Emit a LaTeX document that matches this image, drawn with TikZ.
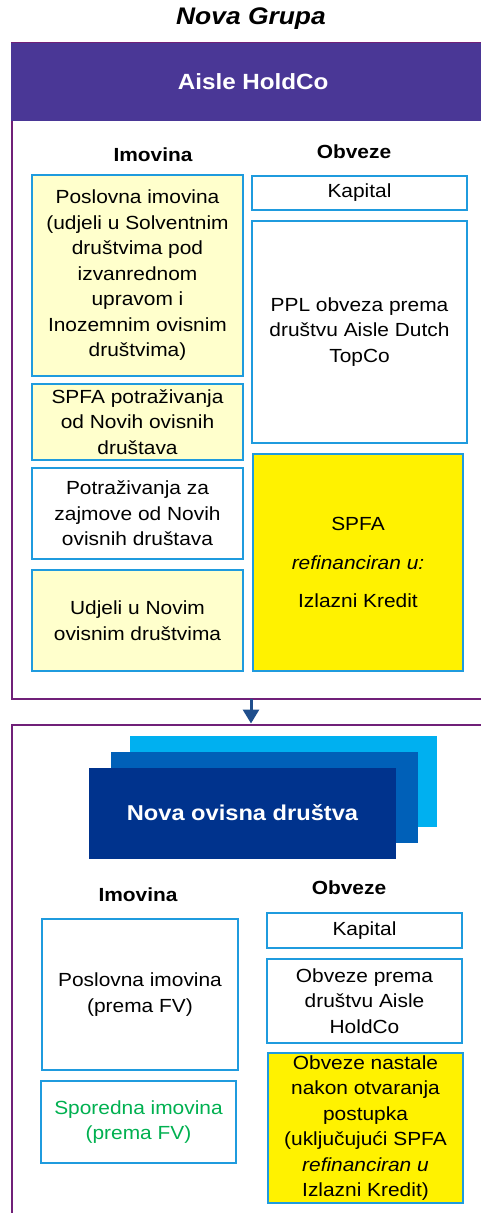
\documentclass[tikz,border=0pt]{standalone}
\usepackage{fontspec}
\setmainfont{Liberation Sans}[FakeStretch=1.1]
\usetikzlibrary{arrows.meta}

\definecolor{framepurple}{RGB}{112,32,120}
\definecolor{headerpurple}{RGB}{74,55,150}
\definecolor{boxblue}{RGB}{31,155,222}
\definecolor{lightyellow}{RGB}{255,255,204}
\definecolor{stackback}{RGB}{0,176,240}
\definecolor{stackmid}{RGB}{0,96,184}
\definecolor{stackfront}{RGB}{0,51,141}
\definecolor{arrowblue}{RGB}{31,78,140}
\definecolor{sidegreen}{RGB}{0,176,80}

\begin{document}
\begin{tikzpicture}[x=1pt, y=-1pt,
    frame/.style={draw=framepurple, line width=1.6pt},
    box/.style={draw=boxblue, line width=1.8pt, rectangle, align=center, inner sep=0pt,
        font=\fontsize{19}{25.5}\selectfont},
    assetbox/.style={box, fill=lightyellow},
    spfabox/.style={box, fill=yellow},
    heading/.style={font=\fontsize{19}{22}\selectfont\bfseries},
    stackbox/.style={rectangle, minimum width=307pt, minimum height=91pt, inner sep=0pt}]
    \useasboundingbox (0,0) rectangle (481,1213);
    \clip (0,0) rectangle (481,1213);

    % Aisle HoldCo
    \node (title) at (251,19) [font=\fontsize{24}{28}\selectfont\bfseries\itshape] {Nova Grupa};
    \draw[frame] (12,43) rectangle (495,699);
    \node (holdco) at (11,82) [anchor=west, fill=headerpurple, minimum width=484pt, minimum height=78pt,
        text=white, font=\fontsize{22}{26}\selectfont\bfseries] {Aisle HoldCo};
    \node (imovina) at (153,155) [heading] {Imovina};
    \node (obveze) at (354,152) [heading] {Obveze};
    \node (poslovna) at (137.5,275.5) [assetbox, minimum width=211pt, minimum height=201pt]
        {Poslovna imovina\\(udjeli u Solventnim\\društvima pod\\izvanrednom\\upravom i\\Inozemnim ovisnim\\društvima)};
    \node (spfapot) at (137.5,422) [assetbox, minimum width=211pt, minimum height=76pt]
        {SPFA potraživanja\\od Novih ovisnih\\društava};
    \node (zajmovi) at (137.5,513.5) [box, minimum width=211pt, minimum height=91pt]
        {Potraživanja za\\zajmove od Novih\\ovisnih društava};
    \node (udjeli) at (137.5,620.5) [assetbox, minimum width=211pt, minimum height=101pt]
        {Udjeli u Novim\\ovisnim društvima};
    \node (kapital) at (359.5,193) [box, minimum width=215pt, minimum height=34pt] {Kapital};
    \node (ppl) at (359.5,332) [box, minimum width=215pt, minimum height=222pt]
        {PPL obveza prema\\društvu Aisle Dutch\\TopCo};
    \node (spfa) at (358,562.5) [spfabox, minimum width=210pt, minimum height=217pt]
        {SPFA\\[13pt]\textit{refinanciran u:}\\[13pt]Izlazni Kredit};

    % Nova ovisna drustva
    \draw[frame] (12,1220) -- (12,725) -- (495,725);
    \coordinate (holdcobase) at (251,699);
    \coordinate (novatop) at (251,725);
    \draw[-{Triangle[length=14pt,width=16pt]}, draw=arrowblue, fill=arrowblue, line width=3pt, shorten >=1.5pt]
        (holdcobase) -- (novatop);
    \node (stackthree) at (283.5,781.5) [stackbox, fill=stackback] {};
    \node (stacktwo) at (264.5,797.5) [stackbox, fill=stackmid] {};
    \node (nova) at (242.5,813) [stackbox, fill=stackfront, text=white,
        font=\fontsize{21.5}{26}\selectfont\bfseries] {Nova ovisna društva};
    \node (imovinatwo) at (138,895) [heading] {Imovina};
    \node (obvezetwo) at (349,888) [heading] {Obveze};
    \node (poslovnafv) at (140,994.5) [box, minimum width=196pt, minimum height=151pt]
        {Poslovna imovina\\(prema FV)};
    \node (sporedna) at (138.5,1122) [box, minimum width=195pt, minimum height=82pt, text=sidegreen]
        {Sporedna imovina\\(prema FV)};
    \node (kapitaltwo) at (364.5,930.5) [box, minimum width=195pt, minimum height=35pt] {Kapital};
    \node (obvholdco) at (364.5,1001) [box, minimum width=195pt, minimum height=84pt]
        {Obveze prema\\društvu Aisle\\HoldCo};
    \node (obvnastale) at (365.5,1128) [spfabox, minimum width=195pt, minimum height=150pt]
        {Obveze nastale\\nakon otvaranja\\postupka\\(uključujući SPFA\\\textit{refinanciran u}\\Izlazni Kredit)};
\end{tikzpicture}
\end{document}
